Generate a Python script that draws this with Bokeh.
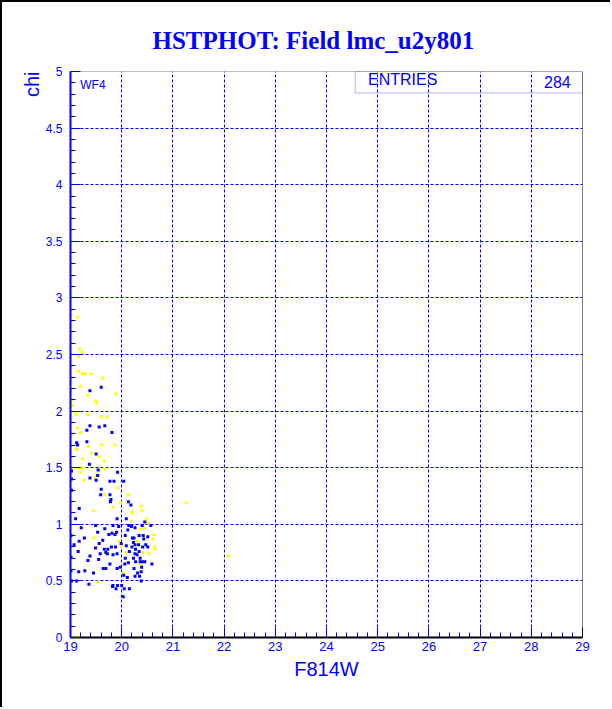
from bokeh.plotting import figure
from bokeh.models import (Range1d, SingleIntervalTicker, PrintfTickFormatter,
                          Label, BoxAnnotation, Span, Title)
from bokeh.embed import file_html
from bokeh.resources import INLINE

# WF4 chip: F814W magnitude vs. chi, two star classes
yellow_f814w = [19.14, 19.18, 19.23, 19.16, 19.16, 19.23, 19.29, 19.40, 19.63, 19.20,
                19.01, 19.89, 19.34, 19.02, 19.05, 19.51, 19.50, 19.11, 19.34, 19.61,
                19.72, 19.14, 19.20, 19.35, 19.61, 19.87, 19.12, 19.42, 19.56, 19.24,
                19.66, 19.17, 19.24, 19.67, 19.20, 19.48, 19.27, 19.93, 19.67, 20.13,
                19.83, 19.98, 20.21, 19.45, 20.19, 19.46, 19.95, 20.00, 20.09, 20.03,
                19.53, 21.26, 20.38, 20.40, 20.20, 20.48, 20.47, 20.53, 20.44, 20.36,
                20.63, 20.61, 20.64, 20.65, 20.53, 20.41, 20.30, 20.38, 22.08]
yellow_chi = [2.83, 2.55, 2.52, 2.48, 2.35, 2.33, 2.33, 2.33, 2.29, 2.22,
              2.18, 2.15, 2.14, 2.09, 2.05, 2.07, 2.09, 1.97, 1.97, 1.95,
              1.95, 1.85, 1.81, 1.69, 1.70, 1.70, 1.66, 1.63, 1.60, 1.58,
              1.56, 1.50, 1.50, 1.49, 1.46, 1.41, 1.39, 1.32, 1.26, 1.26,
              1.15, 1.19, 1.11, 1.12, 1.03, 0.88, 0.85, 0.81, 0.75, 0.57,
              0.49, 1.19, 1.16, 1.12, 1.10, 1.05, 1.02, 1.01, 0.97, 0.96,
              0.91, 0.87, 0.80, 0.78, 0.74, 0.75, 0.85, 0.64, 0.72]

blue_f814w = [19.38, 19.60, 19.38, 19.56, 19.67, 19.81, 19.32, 19.32, 19.12, 19.14,
              19.50, 19.37, 19.02, 19.54, 19.92, 19.53, 19.38, 19.50, 19.77, 19.85,
              20.04, 19.60, 19.59, 19.77, 19.79, 19.02, 19.02, 19.78, 20.13, 19.17,
              19.10, 19.91, 20.09, 19.49, 19.83, 19.94, 20.14, 19.21, 20.12, 19.67,
              19.53, 19.81, 19.87, 19.90, 19.75, 20.07, 19.27, 19.63, 20.21, 19.17,
              19.07, 19.56, 19.99, 19.80, 19.88, 20.09, 19.49, 19.66, 19.73, 19.69,
              19.15, 19.91, 20.15, 19.58, 19.72, 19.38, 19.83, 20.07, 19.55, 20.13,
              19.34, 19.77, 20.06, 19.64, 19.69, 19.91, 19.28, 19.16, 19.45, 19.97,
              20.04, 20.11, 19.12, 19.36, 19.83, 19.92, 19.82, 19.89, 20.05, 20.03,
              19.02, 19.01, 19.01, 19.01, 20.15, 20.00, 20.18, 20.45, 20.40, 20.57,
              20.19, 20.26, 20.34, 20.42, 20.51, 20.24, 20.43, 20.23, 20.26, 20.33,
              20.47, 20.51, 20.20, 20.41, 20.27, 20.34, 20.26, 20.30, 20.23, 20.36,
              20.36, 20.40, 20.27, 20.45, 20.59, 20.39, 20.24, 20.38, 20.31, 20.26,
              20.35, 20.38]
blue_chi = [2.18, 2.21, 1.87, 1.86, 1.87, 1.81, 1.83, 1.73, 1.72, 1.70,
            1.62, 1.53, 1.47, 1.48, 1.46, 1.43, 1.41, 1.39, 1.38, 1.38,
            1.38, 1.31, 1.26, 1.26, 1.22, 1.30, 1.40, 1.20, 1.20, 1.14,
            1.05, 1.05, 1.05, 0.99, 0.99, 0.98, 0.99, 0.97, 0.95, 0.96,
            0.93, 0.92, 0.91, 0.93, 0.91, 0.90, 0.88, 0.86, 0.88, 0.85,
            0.82, 0.83, 0.83, 0.80, 0.80, 0.81, 0.79, 0.78, 0.78, 0.75,
            0.76, 0.74, 0.76, 0.74, 0.74, 0.72, 0.73, 0.70, 0.69, 0.66,
            0.68, 0.65, 0.65, 0.61, 0.61, 0.61, 0.59, 0.58, 0.57, 0.62,
            0.55, 0.53, 0.50, 0.47, 0.46, 0.46, 0.45, 0.43, 0.43, 0.36,
            0.50, 0.59, 0.71, 0.90, 0.43, 0.46, 1.17, 1.02, 0.99, 0.99,
            0.98, 0.97, 0.90, 0.90, 0.89, 0.88, 0.87, 0.84, 0.82, 0.82,
            0.82, 0.80, 0.80, 0.80, 0.78, 0.76, 0.74, 0.73, 0.70, 0.70,
            0.67, 0.67, 0.67, 0.67, 0.65, 0.62, 0.61, 0.58, 0.57, 0.54,
            0.54, 0.50]

x_ticks = list(range(19, 30))
y_ticks = [0, 0.5, 1, 1.5, 2, 2.5, 3, 3.5, 4, 4.5, 5]
entries_label = "ENTRIES"
entries_value = "284"
chip_name = "WF4"

BLUE = "#0000ff"
YELLOW = "#ffff00"

p = figure(width=610, height=707, output_backend="svg", toolbar_location=None,
           x_range=Range1d(x_ticks[0], x_ticks[-1]),
           y_range=Range1d(y_ticks[0], y_ticks[-1]),
           min_border_left=68, min_border_right=30,
           min_border_top=69, min_border_bottom=72,
           background_fill_color="white", border_fill_color="white",
           outline_line_color=None)
p.styles = {"border-left": "2px solid black", "border-top": "2px solid black"}

# main title
p.title = Title(text="HSTPHOT: Field lmc_u2y801", align="left", offset=82,
                standoff=32, vertical_align="top",
                text_font="Liberation Serif", text_font_style="bold",
                text_font_size="25px", text_color=BLUE)

# axes and ticks
p.xaxis.ticker = SingleIntervalTicker(interval=1, num_minor_ticks=5)
p.yaxis.ticker = SingleIntervalTicker(interval=0.5, num_minor_ticks=5)
p.yaxis.formatter = PrintfTickFormatter(format="%g")
for ax in (p.xaxis[0], p.yaxis[0]):
    ax.major_tick_in = 10
    ax.major_tick_out = 0
    ax.minor_tick_in = 5
    ax.minor_tick_out = 0
    ax.major_tick_line_color = BLUE
    ax.minor_tick_line_color = BLUE
    ax.major_label_text_color = BLUE
    ax.major_label_text_font = "Liberation Sans"
    ax.major_label_text_font_size = "13px"
p.xaxis.axis_line_color = "black"
p.xaxis.axis_line_width = 2
p.yaxis.axis_line_color = BLUE
p.yaxis.axis_line_width = 2
p.yaxis.major_label_standoff = 8
p.xaxis.major_label_standoff = 4
p.yaxis.major_label_text_font_size = "12px"

p.xaxis.axis_label = "F814W"
p.xaxis.axis_label_text_font = "Liberation Sans"
p.xaxis.axis_label_text_font_style = "normal"
p.xaxis.axis_label_text_font_size = "20px"
p.xaxis.axis_label_text_color = BLUE
p.xaxis.axis_label_standoff = 4

# y axis title at the top end of the axis
p.add_layout(Title(text="chi", align="right", standoff=0,
                   text_font="Liberation Sans", text_font_style="normal",
                   text_font_size="20px", text_color=BLUE), "left")

# dashed grid
for g in (p.xgrid[0], p.ygrid[0]):
    g.grid_line_color = BLUE
    g.grid_line_dash = "3 2"
    g.grid_line_width = 1

# frame top (dotted) and right (solid)
p.add_layout(Span(location=y_ticks[-1], dimension="width", line_color="black",
                  line_dash="1 1", line_width=1))
p.add_layout(Span(location=x_ticks[-1], dimension="height", line_color="black",
                  line_width=1))

# stars
p.scatter(yellow_f814w, yellow_chi, marker="square", size=3,
          fill_color=YELLOW, line_color=None)
p.scatter(blue_f814w, blue_chi, marker="square", size=3,
          fill_color=BLUE, line_color=None)

# statistics box
p.add_layout(BoxAnnotation(left=24.56, right=29, bottom=4.81, top=5,
                           fill_color=None, fill_alpha=0,
                           line_color=BLUE, line_width=1))
p.add_layout(Label(x=24.81, y=4.85, text=entries_label, text_font="Liberation Sans",
                   text_font_size="16px", text_color=BLUE))
p.add_layout(Label(x=28.77, y=4.85, text=entries_value, text_align="right",
                   text_font="Liberation Sans", text_font_size="16px",
                   text_color=BLUE))
p.add_layout(Label(x=19.19, y=4.82, text=chip_name, text_font="Liberation Sans",
                   text_font_size="12px", text_color=BLUE))

open("out.html", "w").write(file_html(p, INLINE))
